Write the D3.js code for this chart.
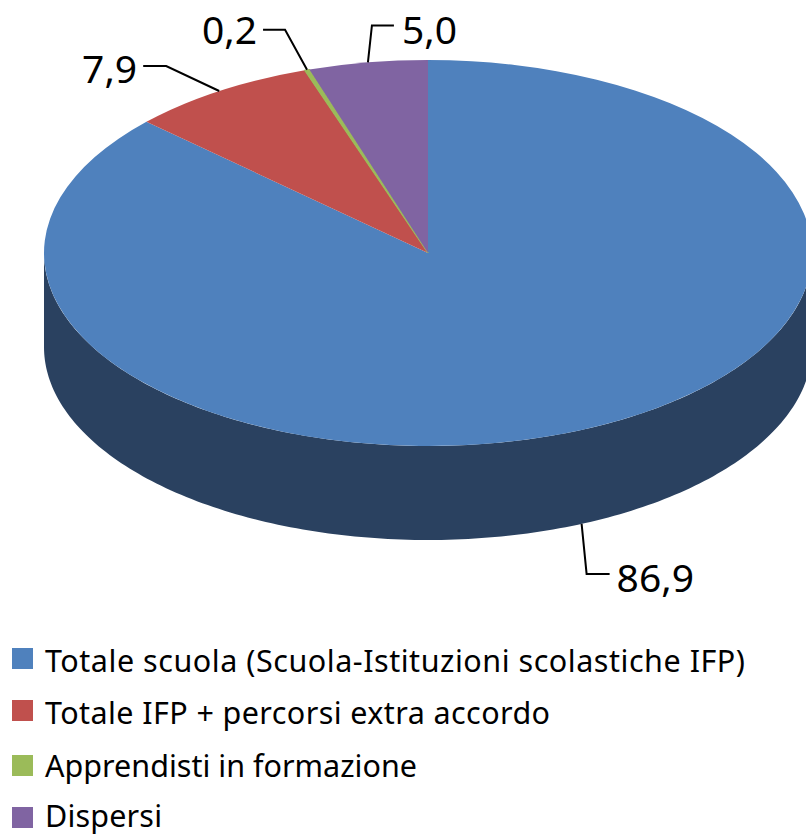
<!DOCTYPE html>
<html><head><meta charset="utf-8">
<script src="https://cdn.jsdelivr.net/npm/d3@7"></script>
<style>html,body{margin:0;padding:0;background:#fff;overflow:hidden}svg{display:block}text{font-family:"Noto Sans","Open Sans",sans-serif;fill:#000}</style>
</head><body><div id="c"></div>
<script>
const categories = ["Totale scuola (Scuola-Istituzioni scolastiche IFP)","Totale IFP + percorsi extra accordo","Apprendisti in formazione","Dispersi"];
const values = [86.9, 7.9, 0.2, 5.0];
const valueLabels = ["86,9","7,9","0,2","5,0"];
const colors = ["#4f81bd","#c0504d","#9bbb59","#8064a2"];
const wallColor = "#2a4160";

const W = 806, H = 835, cx = 428, cy = 253, rx = 384, ry = 193, depth = 94;
const svg = d3.select("#c").append("svg").attr("width", W).attr("height", H);
const color = d3.scaleOrdinal(categories, colors);
const pie = d3.pie().sort(null).value(d => d.v);
const slices = pie(categories.map((c, i) => ({c, v: values[i], l: valueLabels[i]})));
const pt = (a, dy = 0) => [cx + rx * Math.sin(a), cy + dy - ry * Math.cos(a)];

// side wall: visible lower half of the rim of the largest slice
const front = d3.range(0, 181).map(d => Math.PI / 2 + d / 180 * Math.PI);
const wall = front.map(a => pt(a, 0)).concat(front.slice().reverse().map(a => pt(a, depth)));
svg.append("path").attr("d", d3.line()(wall) + "Z").attr("fill", wallColor);

// top face
const arc = d3.arc().innerRadius(0).outerRadius(rx);
svg.append("g").attr("transform", `translate(${cx},${cy}) scale(1,${ry / rx})`)
  .selectAll("path").data(slices).join("path")
  .attr("d", arc).attr("fill", d => color(d.data.c))
  .attr("stroke", d => d.data.v < 1 ? color(d.data.c) : "none")
  .attr("stroke-width", 1.5);

// leader lines & labels; offsets from the slice anchor on the rim
const layout = [
  {dy: depth, elbow: [5, 50], end: [28, 50], anchor: "start", tx: 35, ty: 68},
  {dy: 0, elbow: [-53, -25], end: [-76, -25], anchor: "end", tx: -82, ty: -8},
  {dy: 0, elbow: [-22, -40], end: [-44, -40], anchor: "end", tx: -50, ty: -26},
  {dy: 0, elbow: [4, -37], end: [26, -37], anchor: "start", tx: 34, ty: -18}
];
slices.forEach((s, i) => {
  const L = layout[i], mid = (s.startAngle + s.endAngle) / 2, p = pt(mid, L.dy);
  svg.append("path").attr("fill", "none").attr("stroke", "#000").attr("stroke-width", 2)
    .attr("d", d3.line()([p, [p[0] + L.elbow[0], p[1] + L.elbow[1]], [p[0] + L.end[0], p[1] + L.end[1]]]));
  svg.append("text").attr("x", p[0] + L.tx).attr("y", p[1] + L.ty).attr("text-anchor", L.anchor)
    .attr("font-size", 39).text(s.data.l);
});

// legend
const legendY = d3.scalePoint().domain(categories).range([658.5, 817.5]);
const legendOffsets = [0, -1, 1, 0];
const legendBaseline = [13.5, 13.5, 11.5, 9];
const legendWidths = [700, 505, 372, 117];
const lg = svg.append("g").selectAll("g").data(categories).join("g")
  .attr("transform", (d, i) => `translate(0,${legendY(d) + legendOffsets[i]})`);
lg.append("rect").attr("x", 12).attr("y", -10.5).attr("width", 21).attr("height", 21).attr("fill", d => color(d));
lg.append("text").attr("x", 45).attr("y", (d, i) => legendBaseline[i]).attr("font-size", 30.5)
  .attr("textLength", (d, i) => legendWidths[i]).attr("lengthAdjust", "spacing").text(d => d);
</script></body></html>
